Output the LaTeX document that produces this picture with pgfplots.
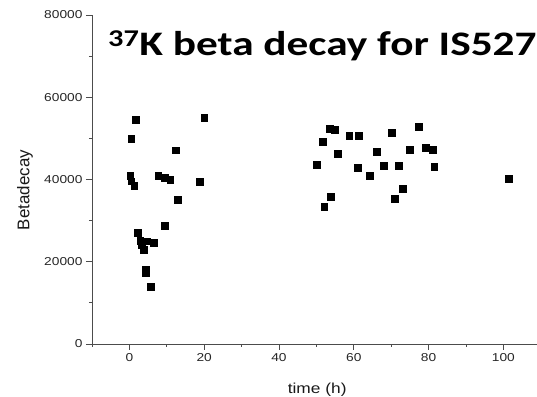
\documentclass[border=0pt]{standalone}
\usepackage{pgfplots}
\pgfplotsset{compat=1.18}
\usepackage{fontspec}
\setmainfont{Liberation Sans}
\newfontfamily\sfs{Liberation Sans}[FakeStretch=1.2]
\newfontfamily\titlefont{Carlito}[FakeStretch=1.26]

\pgfplotstableread{
x y
1.6 54600
20.0 55000
0.5 49900
12.3 47100
0.2 41000
0.5 39600
1.3 38500
7.7 41000
9.4 40500
10.9 40000
18.7 39500
12.9 35000
9.4 28700
2.2 27100
2.9 25200
4.7 25000
6.5 24600
3.3 24100
3.8 22900
4.3 18000
4.3 17200
5.6 14000
53.5 52400
54.8 52100
51.7 49200
58.8 50600
61.3 50700
70.1 51300
77.3 52800
55.7 46200
66.2 46700
75.0 47200
79.3 47700
81.1 47200
50.1 43500
61.0 42800
68.1 43400
72.0 43400
81.5 43100
64.2 41000
101.5 40100
73.1 37700
71.0 35400
53.9 35800
52.1 33400
}\datatable

\begin{document}
\begin{tikzpicture}
\begin{axis}[
  scale only axis, width=445bp, height=329bp,
  xmin=-10, xmax=109, ymin=0, ymax=80000,
  axis x line=bottom, axis y line=left,
  axis line style={-, black!70, line width=0.9bp},
  xtick={0,20,...,100}, minor xtick={-10,10,30,50,70,90},
  ytick={0,20000,40000,60000,80000}, minor ytick={10000,30000,50000,70000},
  tick align=outside, major tick length=6bp, minor tick length=3bp,
  every tick/.style={black!70, line width=0.8bp},
  scaled y ticks=false,
  /pgf/number format/1000 sep={},
  /pgf/number format/assume math mode=true,
  ticklabel style={font=\sfs\fontsize{11.5}{13}\selectfont, text=black!85},
  xlabel={time (h)}, ylabel={Betadecay},
  xlabel style={font=\sfs\fontsize{14.5}{17}\selectfont, text=black!90, at={(axis description cs:0.506,-0.149)}, anchor=base},
  ylabel style={font=\fontsize{17}{20}\selectfont, text=black!90, at={(axis description cs:-0.1506,0.468)}, anchor=center},
  clip=false,
]
\addplot[only marks, mark=square*, mark size=3.4bp, black] table[x=x,y=y] {\datatable};
\node[anchor=base west, inner sep=0pt, font=\titlefont\bfseries\fontsize{34.5}{40}\selectfont] at (rel axis cs:0.036,0.878) {\textsuperscript{37}K beta decay for IS527};
\coordinate (bl) at (rel axis cs:0,0);
\coordinate (tr) at (rel axis cs:1,1);
\end{axis}
\pgfresetboundingbox
\path ([shift={(-92bp,-53bp)}]bl) rectangle ([shift={(0bp,15bp)}]tr);
\end{tikzpicture}
\end{document}
